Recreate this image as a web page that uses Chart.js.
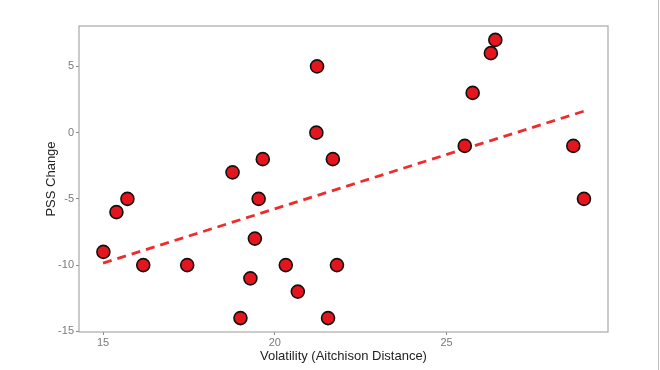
<!DOCTYPE html>
<html>
<head>
<meta charset="utf-8">
<script src="https://cdn.jsdelivr.net/npm/chart.js@4/dist/chart.umd.min.js"></script>
<style>
  html, body { margin: 0; padding: 0; background: #fff; }
  #wrap { position: relative; width: 660px; height: 370px; }
  #edge { position: absolute; right: 1px; top: 0; width: 1px; height: 370px; background: #bdbdbd; }
</style>
</head>
<body>
<div id="wrap">
  <canvas id="chart" width="660" height="370"></canvas>
  <div id="edge"></div>
</div>
<script>
  // Scatter points
  const volatility = [15.01, 15.39, 15.71, 16.17, 17.45, 18.77, 19.0, 19.29, 19.42, 19.53, 19.65, 20.32,
    20.67, 21.21, 21.23, 21.55, 21.69, 21.81, 25.53, 25.76, 26.29, 26.42, 28.69, 29.0];
  const pssChange = [-9, -6, -5, -10, -10, -3, -14, -11, -8, -5, -2, -10,
    -12, 0, 5, -14, -2, -10, -1, 3, 6, 7, -1, -5];

  // Fitted trend line end points
  const trendX = [15.0, 29.0];
  const trendY = [-9.85, 1.62];

  const xTicks = [15, 20, 25];
  const yTicks = [-15, -10, -5, 0, 5];

  const TICK_FONT = { family: "'Liberation Sans', Arial, sans-serif", size: 11 };
  const TITLE_FONT = { family: "'Liberation Sans', Arial, sans-serif", size: 13 };

  // Grey panel border around the plot area
  const panelBorder = {
    id: 'panelBorder',
    afterDraw(chart) {
      const a = chart.chartArea;
      const ctx = chart.ctx;
      ctx.save();
      ctx.strokeStyle = '#a8a8a8';
      ctx.lineWidth = 1.2;
      ctx.strokeRect(a.left, a.top, a.right - a.left, a.bottom - a.top);
      ctx.restore();
    },
  };

  new Chart(document.getElementById('chart'), {
    type: 'scatter',
    data: {
      datasets: [
        {
          label: 'Participants',
          data: volatility.map((x, i) => ({ x: x, y: pssChange[i] })),
          backgroundColor: '#E5151D',
          borderColor: '#111',
          borderWidth: 1.6,
          pointRadius: 6.5,
          pointHoverRadius: 6.5,
          order: 1,
        },
        {
          label: 'Trend',
          type: 'line',
          data: trendX.map((x, i) => ({ x: x, y: trendY[i] })),
          borderColor: '#EF2B2B',
          borderWidth: 2.8,
          borderDash: [9, 6],
          pointRadius: 0,
          fill: false,
          order: 2,
        },
      ],
    },
    options: {
      responsive: false,
      animation: false,
      layout: { padding: { left: 44, right: 52, top: 26, bottom: 6 } },
      plugins: { legend: { display: false }, tooltip: { enabled: false } },
      scales: {
        x: {
          type: 'linear',
          min: 14.3,
          max: 29.7,
          afterBuildTicks: (axis) => { axis.ticks = xTicks.map((v) => ({ value: v })); },
          afterFit: (axis) => { axis.height = 32; },
          grid: { drawOnChartArea: false, drawTicks: true, tickLength: 3, color: '#888' },
          border: { display: false },
          ticks: { color: '#7a7a7a', font: TICK_FONT, padding: 1 },
          title: { display: true, text: 'Volatility (Aitchison Distance)', color: '#222', font: TITLE_FONT, padding: 0 },
        },
        y: {
          min: -15.05,
          max: 8.05,
          afterBuildTicks: (axis) => { axis.ticks = yTicks.map((v) => ({ value: v })); },
          afterFit: (axis) => { axis.width = 35; },
          grid: { drawOnChartArea: false, drawTicks: true, tickLength: 3, color: '#888' },
          border: { display: false },
          ticks: { color: '#7a7a7a', font: TICK_FONT, padding: 2 },
          title: { display: true, text: 'PSS Change', color: '#222', font: TITLE_FONT, padding: 0 },
        },
      },
    },
    plugins: [panelBorder],
  });
</script>
</body>
</html>
